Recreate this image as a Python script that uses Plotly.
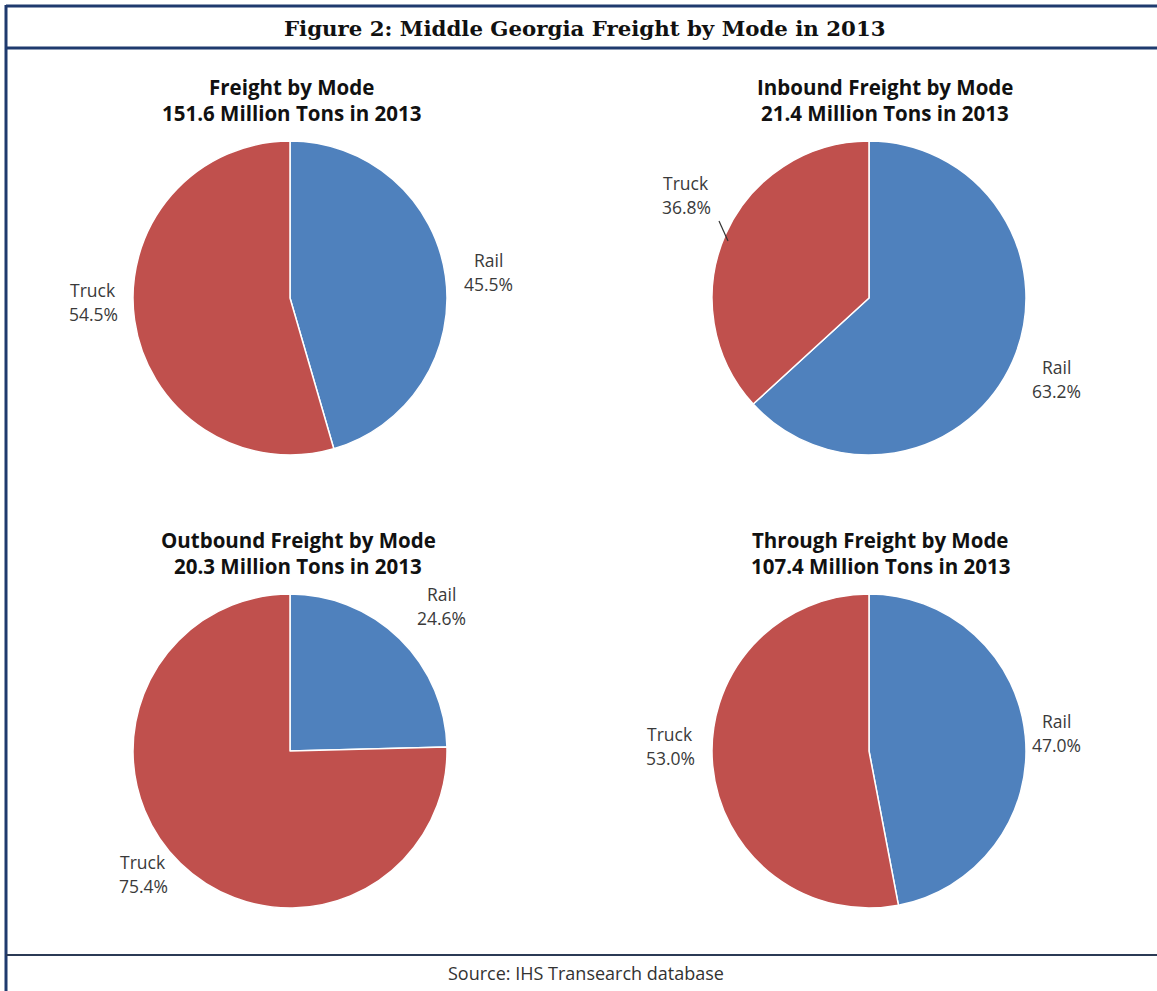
import plotly.graph_objects as go

W, H = 1157, 991

modes = ["Rail", "Truck"]
chart_titles = ["Freight by Mode", "Inbound Freight by Mode",
                "Outbound Freight by Mode", "Through Freight by Mode"]
chart_totals = ["151.6 Million Tons in 2013", "21.4 Million Tons in 2013",
                "20.3 Million Tons in 2013", "107.4 Million Tons in 2013"]
total_vals = [45.5, 54.5]
inbound_vals = [63.2, 36.8]
outbound_vals = [24.6, 75.4]
through_vals = [47.0, 53.0]
all_vals = [total_vals, inbound_vals, outbound_vals, through_vals]
colors = ["#4F81BD", "#C0504D"]

def px(x):
    return x / W

def py(y):
    return 1 - y / H

# pie layout: (center x, center y) in pixels, radius
centers = [(290, 298), (869, 298), (290, 751), (869, 751)]
R = 157
title_x = [291, 885, 298, 880]
title_y = [(87, 113), (87, 113), (540, 566), (540, 566)]

# label pixel positions: per chart, per mode (name line center)
label_pos = [
    [(488, 260), (93, 290)],
    [(1056, 367), (686, 183)],
    [(441, 594), (143, 862)],
    [(1056, 721), (670, 734)],
]

fig = go.Figure()
for i, vals in enumerate(all_vals):
    cx, cy = centers[i]
    fig.add_trace(go.Pie(
        labels=modes, values=vals, sort=False, direction="clockwise",
        rotation=0, textinfo="none", hoverinfo="label+percent",
        marker=dict(colors=colors, line=dict(color="white", width=1.5)),
        domain=dict(x=[px(cx - R), px(cx + R)], y=[py(cy + R), py(cy - R)]),
        showlegend=False,
    ))

ann = []
label_font = dict(family="Open Sans, sans-serif", size=17.5, color="#3A3A3A")
for i, vals in enumerate(all_vals):
    for j, m in enumerate(modes):
        lx, ly = label_pos[i][j]
        ann.append(dict(x=px(lx), y=py(ly), xref="paper", yref="paper",
                        text=m, showarrow=False, font=label_font,
                        xanchor="center", yanchor="middle"))
        ann.append(dict(x=px(lx), y=py(ly + 24), xref="paper", yref="paper",
                        text=f"{vals[j]:.1f}%", showarrow=False, font=label_font,
                        xanchor="center", yanchor="middle"))
    t1, t2 = title_y[i]
    tf = dict(family="Open Sans, sans-serif", size=20.5, color="#111111")
    ann.append(dict(x=px(title_x[i]), y=py(t1), xref="paper", yref="paper",
                    text=f"<b>{chart_titles[i]}</b>", showarrow=False, font=tf,
                    xanchor="center", yanchor="middle"))
    ann.append(dict(x=px(title_x[i]), y=py(t2), xref="paper", yref="paper",
                    text=f"<b>{chart_totals[i]}</b>", showarrow=False, font=tf,
                    xanchor="center", yanchor="middle"))

ann.append(dict(x=px(585), y=py(28), xref="paper", yref="paper",
                text="<b>Figure 2: Middle Georgia Freight by Mode in 2013</b>",
                showarrow=False,
                font=dict(family="DejaVu Serif, serif", size=21.3, color="#111111"),
                xanchor="center", yanchor="middle"))
ann.append(dict(x=px(586), y=py(973), xref="paper", yref="paper",
                text="Source: IHS Transearch database", showarrow=False,
                font=dict(family="Open Sans, sans-serif", size=18, color="#333333"),
                xanchor="center", yanchor="middle"))

navy = "#1F3A6E"
shapes = [
    dict(type="line", xref="paper", yref="paper", x0=px(6), x1=px(1160), y0=py(6), y1=py(6),
         line=dict(color=navy, width=3)),
    dict(type="line", xref="paper", yref="paper", x0=px(6), x1=px(1160), y0=py(48), y1=py(48),
         line=dict(color=navy, width=3)),
    dict(type="line", xref="paper", yref="paper", x0=px(6), x1=px(6), y0=py(5), y1=py(995),
         line=dict(color=navy, width=3)),
    dict(type="line", xref="paper", yref="paper", x0=px(6), x1=px(1160), y0=py(955), y1=py(955),
         line=dict(color="#2B3A55", width=2)),
    # leader line for inbound Truck label
    dict(type="line", xref="paper", yref="paper", x0=px(719), x1=px(728), y0=py(221), y1=py(241),
         line=dict(color="#333333", width=1.2)),
]

fig.update_layout(
    width=W, height=H, margin=dict(l=0, r=0, t=0, b=0),
    paper_bgcolor="white", plot_bgcolor="white",
    annotations=ann, shapes=shapes,
)

fig.write_html("out.html", config={"displayModeBar": False},
               post_script="document.body.style.margin='0';")
